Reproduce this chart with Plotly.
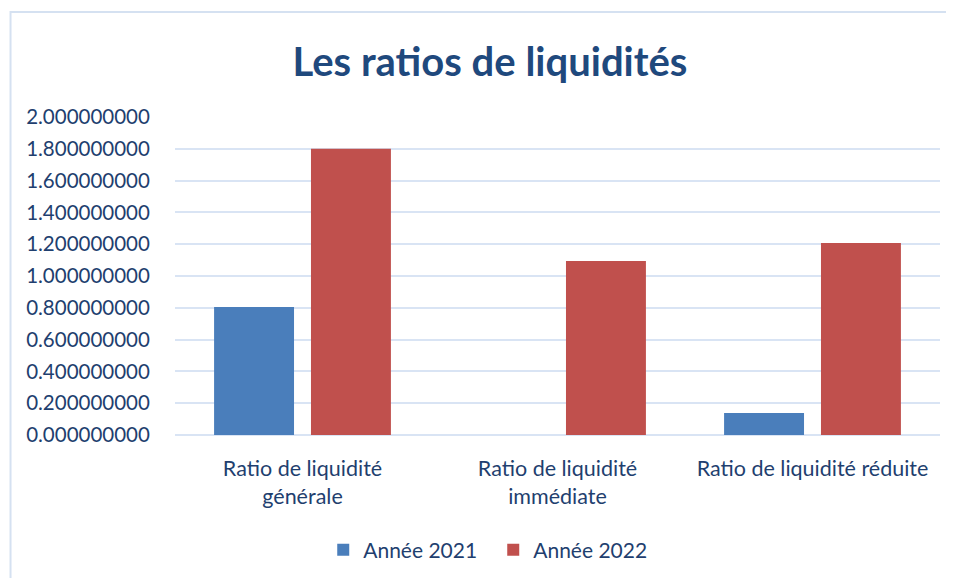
import plotly.graph_objects as go

categories = ["Ratio de liquidité<br>générale", "Ratio de liquidité<br>immédiate", "Ratio de liquidité réduite"]
annee_2021 = [0.805, 0.0, 0.138]
annee_2022 = [1.80, 1.095, 1.207]
y_ticks = [0.0, 0.2, 0.4, 0.6, 0.8, 1.0, 1.2, 1.4, 1.6, 1.8, 2.0]

FONT = "Lato, Open Sans, sans-serif"
TEXT = "#1f3f6f"
GRID = "#d9e4f4"

fig = go.Figure()
fig.add_trace(go.Bar(
    x=categories, y=annee_2021, name="Année 2021",
    marker=dict(color="#4a7ebb", line=dict(width=0)),
))
fig.add_trace(go.Bar(
    x=categories, y=annee_2022, name="Année 2022",
    marker=dict(color="#c0504d", line=dict(width=0)),
))

# chart frame
fig.add_shape(type="rect", xref="paper", yref="paper",
              x0=-0.215, x1=1.0105, y0=-0.5, y1=1.33,
              line=dict(color="#d5e1f1", width=2), fillcolor="rgba(0,0,0,0)", layer="below")

fig.update_layout(
    width=946, height=570,
    paper_bgcolor="white", plot_bgcolor="white",
    margin=dict(l=167, r=14, t=109, b=143, autoexpand=False),
    font=dict(family=FONT, size=20, color=TEXT),
    title=dict(text="<b>Les ratios de liquidités</b>", x=0.5095, xanchor="center",
               y=0.905, yanchor="middle",
               font=dict(family=FONT, size=40, color="#1f497d")),
    barmode="group", bargap=0.24, bargroupgap=0.175,
    showlegend=True,
    legend=dict(orientation="h", x=0.416, xanchor="center", y=-0.362, yanchor="middle",
                font=dict(size=21, color=TEXT), itemwidth=30, traceorder="normal",
                entrywidth=125, entrywidthmode="pixels"),
)
fig.update_yaxes(range=[0, 2.0], tickvals=y_ticks, tickformat=".9f",
                 showgrid=True, gridcolor=GRID, gridwidth=2,
                 zeroline=True, zerolinecolor=GRID, zerolinewidth=2,
                 ticks="outside", ticklen=20, tickcolor="rgba(0,0,0,0)",
                 tickfont=dict(size=20.5, color=TEXT), showline=False)
fig.update_xaxes(showgrid=False, showline=False, tickfont=dict(size=21.5, color=TEXT),
                 ticks="outside", ticklen=14, tickcolor="rgba(0,0,0,0)")

fig.write_html("out.html")
